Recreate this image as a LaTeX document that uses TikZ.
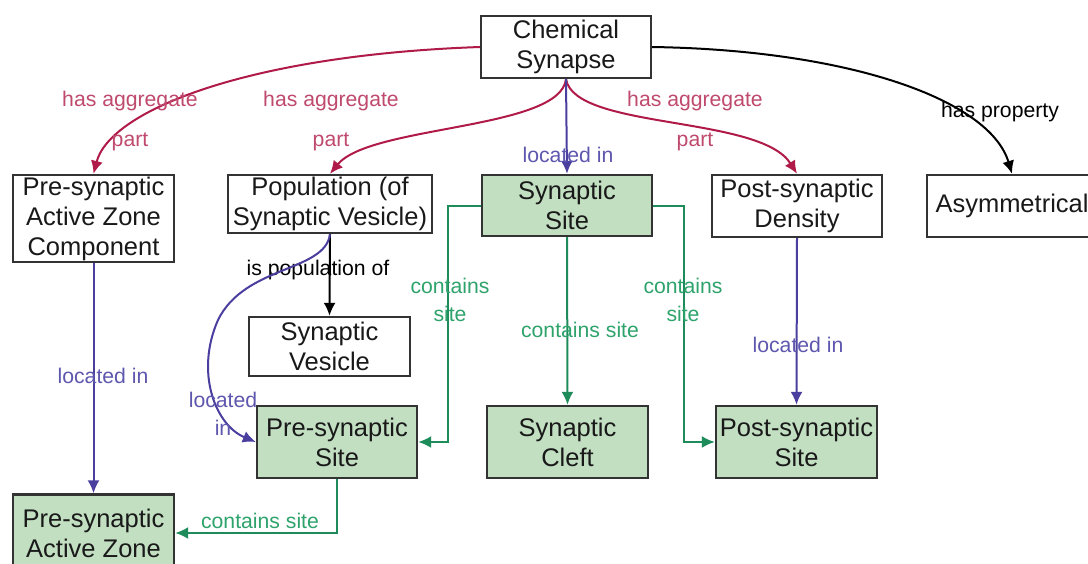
\documentclass[tikz,border=0pt]{standalone}
\usepackage{fontspec}
\setmainfont{Liberation Sans}
\usepackage{xcolor}
\usetikzlibrary{arrows.meta, positioning}

\definecolor{aggred}{HTML}{B01A48}
\definecolor{aggredlbl}{HTML}{BF4A6E}
\definecolor{locblue}{HTML}{4A3F9F}
\definecolor{locbluelbl}{HTML}{5E57AE}
\definecolor{sitegreen}{HTML}{1E8C5A}
\definecolor{sitegreenlbl}{HTML}{2FA36C}
\definecolor{sitefill}{HTML}{C2DFC2}

\begin{document}
\begin{tikzpicture}[x=0.5pt, y=-0.5pt,
    box/.style={draw=black!80, line width=1.2pt, fill=white, align=center,
        inner sep=0pt, text=black!90, font=\fontsize{12.75}{15}\selectfont},
    sitebox/.style={box, fill=sitefill},
    rel/.style={line width=1pt, -{Latex[length=6.5pt,width=6pt]}},
    lbl/.style={align=center, inner sep=0pt, font=\fontsize{10.6}{14}\selectfont}]

    % Canvas
    \useasboundingbox (0,0) rectangle (1088,563);
    \fill[white] (0,0) rectangle (1088,563);

    % Top row
    \node[box, minimum width=85pt, minimum height=31pt] (chem) at (566,47) {Chemical\\Synapse};
    \node[box, minimum width=80.5pt, minimum height=43.5pt] (pazc) at (93.5,218.5) {Pre-synaptic\\Active Zone\\Component};
    \node[box, minimum width=102pt, minimum height=29pt] (pop) at (330,204) {Population (of\\Synaptic Vesicle)};
    \node[sitebox, minimum width=85pt, minimum height=30.5pt] (ssite) at (567,205.5) {Synaptic\\Site};
    \node[box, minimum width=85pt, minimum height=31pt] (psd) at (797,206) {Post-synaptic\\Density};
    \node[box, minimum width=85pt, minimum height=31pt] (asym) at (1012,206) {Asymmetrical};

    % Lower rows
    \node[box, minimum width=80.5pt, minimum height=29.5pt] (sv) at (329.5,346.5) {Synaptic\\Vesicle};
    \node[sitebox, minimum width=80pt, minimum height=36pt] (pss) at (337,442) {Pre-synaptic\\Site};
    \node[sitebox, minimum width=80.5pt, minimum height=36pt] (cleft) at (567.5,442) {Synaptic\\Cleft};
    \node[sitebox, minimum width=80.5pt, minimum height=36pt] (poss) at (796.5,442) {Post-synaptic\\Site};
    \node[sitebox, minimum width=80.5pt, minimum height=38.5pt] (paz) at (93.5,533) {Pre-synaptic\\Active Zone};

    % has aggregate part (red)
    \draw[rel, aggred] (chem.west) .. controls (250,55) and (110,110) .. (pazc.north);
    \draw[rel, aggred] (chem.south) .. controls (560,130) and (370,125) .. (pop.north);
    \draw[rel, aggred] (chem.south) .. controls (575,130) and (760,115) .. (psd.north);
    \node[lbl, text=aggredlbl] (agg1) at (130,121) {has aggregate\\[6pt]part};
    \node[lbl, text=aggredlbl] (agg2) at (331,121) {has aggregate\\[6pt]part};
    \node[lbl, text=aggredlbl] (agg3) at (695,121) {has aggregate\\[6pt]part};

    % has property / is population of (black)
    \draw[rel] (chem.east) .. controls (850,50) and (990,100) .. (asym.north);
    \node[lbl] (hprop) at (1000,112) {has property};
    \draw[rel] (pop.south) -- (sv.north);
    \node[lbl] (ispop) at (318,270) {is population of};

    % located in (blue)
    \draw[rel, locblue] (chem.south) -- (ssite.north);
    \draw[rel, locblue] (pop.south) .. controls (325,272) and (245,265) .. (218,320)
        .. controls (195,372) and (215,425) .. (pss.west);
    \draw[rel, locblue] (psd.south) -- (poss.north);
    \draw[rel, locblue] (pazc.south) -- (paz.north);
    \node[lbl, text=locbluelbl] (loc1) at (568,155) {located in};
    \node[lbl, text=locbluelbl] (loc2) at (223,414) {located\\in};
    \node[lbl, text=locbluelbl] (loc3) at (798,345) {located in};
    \node[lbl, text=locbluelbl] (loc4) at (103,376) {located in};

    % contains site (green)
    \draw[rel, sitegreen] (ssite.west) -- ++(-33,0) |- (pss.east);
    \draw[rel, sitegreen] (ssite.south) -- (cleft.north);
    \draw[rel, sitegreen] (ssite.east) -- ++(31,0) |- (poss.west);
    \draw[rel, sitegreen] (pss.south) |- (paz.east);
    \node[lbl, text=sitegreenlbl] (cs1) at (450,300) {contains\\site};
    \node[lbl, text=sitegreenlbl] (cs2) at (580,330) {contains site};
    \node[lbl, text=sitegreenlbl] (cs3) at (683,300) {contains\\site};
    \node[lbl, text=sitegreenlbl] (cs4) at (260,521) {contains site};
\end{tikzpicture}
\end{document}
